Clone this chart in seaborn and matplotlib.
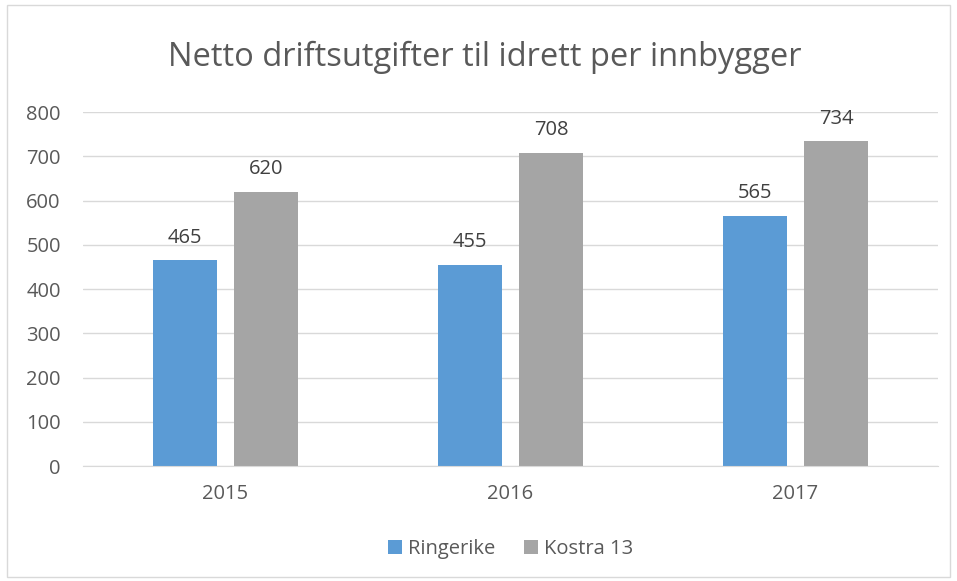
import pandas as pd
import matplotlib.pyplot as plt
import seaborn as sns
from matplotlib.patches import Rectangle

# --- Data ---
years = ["2015", "2016", "2017"]
series = ["Ringerike", "Kostra 13"]
ringerike = [465, 455, 565]
kostra = [620, 708, 734]
colors = ["#5B9BD5", "#A5A5A5"]

df = pd.DataFrame({
    "year": years * 2,
    "serie": [series[0]] * 3 + [series[1]] * 3,
    "value": ringerike + kostra,
})

sns.set_style("white")
plt.rcParams["font.family"] = ["Open Sans", "DejaVu Sans"]
txt = "#595959"

fig = plt.figure(figsize=(9.57, 5.81), dpi=100)
ax = fig.add_axes([83 / 957, 1 - 466 / 581, (938 - 83) / 957, (466 - 112) / 581])

sns.barplot(data=df, x="year", y="value", hue="serie", palette=colors,
            width=0.568, gap=0.21, ax=ax, legend=True, saturation=1,
            linewidth=0)

ax.set_ylim(0, 800)
ax.set_xlim(-0.5, 2.5)
ax.set_yticks(range(0, 801, 100))
ax.yaxis.grid(True, color="#D9D9D9", linewidth=1)
ax.set_axisbelow(True)
for s in ["left", "right", "top"]:
    ax.spines[s].set_visible(False)
ax.spines["bottom"].set_color("#D9D9D9")
ax.tick_params(axis="both", length=0, labelsize=14.5, labelcolor=txt)
ax.tick_params(axis="x", pad=13)
ax.tick_params(axis="y", pad=16)
ax.set_xlabel("")
ax.set_ylabel("")

for c in ax.containers:
    ax.bar_label(c, fmt="%d", padding=9, fontsize=14.5, color="#404040")

ax.legend(loc="center", bbox_to_anchor=(0.5, -0.235), ncol=2, frameon=False,
          fontsize=14.5, labelcolor=txt, handlelength=0.7, handleheight=0.7,
          columnspacing=1.4, handletextpad=0.3)

fig.text(0.507, 1 - 57 / 581, "Netto driftsutgifter til idrett per innbygger",
         ha="center", va="center", fontsize=23.5, color=txt)

fig.patches.append(Rectangle((7 / 957, 4 / 581), 943 / 957, 572 / 581,
                             transform=fig.transFigure, fill=False,
                             edgecolor="#D9D9D9", linewidth=1))

fig.savefig("out.png", dpi=100)
